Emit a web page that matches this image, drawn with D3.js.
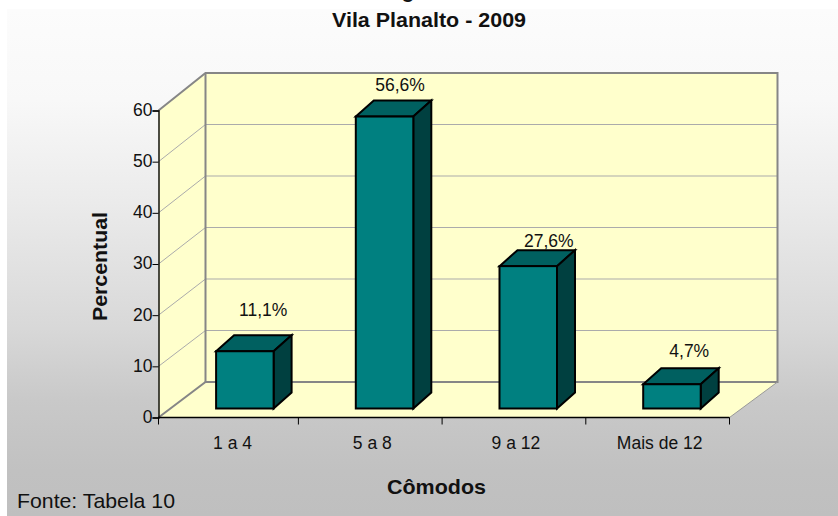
<!DOCTYPE html>
<html><head><meta charset="utf-8">
<style>html,body{margin:0;padding:0;background:#fff}svg{display:block}text{font-family:"Liberation Sans",Arial,sans-serif;fill:#111}</style>
<script src="https://cdn.jsdelivr.net/npm/d3@7/dist/d3.min.js"></script>
</head><body><div id="c"></div>
<script>
const categories = ["1 a 4","5 a 8","9 a 12","Mais de 12"];
const values = [11.1,56.6,27.6,4.7];
const valueLabels = ["11,1%","56,6%","27,6%","4,7%"];
const yTicks = [0,10,20,30,40,50,60];
const titleLines = ["Vila Planalto - 2009"];
const W=838,H=516;
const svg=d3.select("#c").append("svg").attr("width",W).attr("height",H);
const defs=svg.append("defs");
const g=defs.append("linearGradient").attr("id","bg").attr("gradientUnits","userSpaceOnUse").attr("x1",0).attr("y1",9).attr("x2",0).attr("y2",516);
[[0,"#fcfcfc"],[0.18,"#f8f8f8"],[0.38,"#ebebeb"],[0.63,"#d8d8d8"],[0.77,"#c9c9c9"],[0.91,"#c1c1c1"],[1,"#bfbfbf"]]
  .forEach(s=>g.append("stop").attr("offset",s[0]).attr("stop-color",s[1]));
svg.append("rect").attr("x",7).attr("y",9).attr("width",W-7).attr("height",H-9).attr("fill","url(#bg)");

const x=d3.scaleBand().domain(categories).range([154.7,729.5]);
const y=d3.scaleLinear().domain([0,60]).range([417.5,110.5]);
const yBack=d3.scaleLinear().domain([0,60]).range([382,73]);
const yBar=d3.scaleLinear().domain([0,60]).range([408.5,99]);
const dx=47, x0=158.5, x1=729.5;
const wall="#ffffcc", edge="#868686";
const poly=p=>p.map(a=>a.join(",")).join(" ");
const mid=(c,i)=>x(c)+x.bandwidth()/2+(i===0?4:0);
// walls and floor
svg.append("polygon").attr("points",poly([[x0,y(0)],[x0,y(60)],[x0+dx,yBack(60)],[x0+dx,yBack(0)]])).attr("fill",wall);
svg.append("polygon").attr("points",poly([[x0+dx,yBack(0)],[x0+dx,yBack(60)],[x1+dx+1,yBack(60)],[x1+dx+1,yBack(0)]])).attr("fill",wall);
svg.append("polygon").attr("points",poly([[x0,y(0)],[x0+dx,yBack(0)],[x1+dx+1,yBack(0)],[x1,y(0)]])).attr("fill",wall);
// gridlines
yTicks.slice(1,-1).forEach(t=>{
  svg.append("polyline").attr("points",poly([[x0,y(t)],[x0+dx,yBack(t)],[x1+dx+1,yBack(t)]]))
    .attr("fill","none").attr("stroke","#ababab").attr("stroke-width",1);
});
// wall edges
svg.append("polyline").attr("points",poly([[x0,y(60)],[x0+dx,yBack(60)],[x1+dx+1,yBack(60)],[x1+dx+1,yBack(0)],[x0+dx,yBack(0)],[x0,y(0)]]))
  .attr("fill","none").attr("stroke",edge).attr("stroke-width",2);
svg.append("line").attr("x1",x0+dx).attr("x2",x0+dx).attr("y1",yBack(60)).attr("y2",yBack(0)).attr("stroke",edge).attr("stroke-width",2);
svg.append("line").attr("x1",x1).attr("x2",x1+dx+1).attr("y1",y(0)).attr("y2",yBack(0)).attr("stroke","#999").attr("stroke-width",1);
// bars
const barW=57.5, bdx=18, bdy=16;
const bars=svg.append("g").attr("stroke","#000").attr("stroke-width",2).attr("stroke-linejoin","miter");
categories.forEach((c,i)=>{
  const l=mid(c,i)+14.3-barW/2, r=l+barW, t=yBar(values[i]), b=yBar(0);
  bars.append("polygon").attr("points",poly([[l,t],[l+bdx,t-bdy],[r+bdx,t-bdy],[r,t]])).attr("fill","#006060");
  bars.append("polygon").attr("points",poly([[r,t],[r+bdx,t-bdy],[r+bdx,b-bdy],[r,b]])).attr("fill","#004040");
  bars.append("rect").attr("x",l).attr("y",t).attr("width",barW).attr("height",b-t).attr("fill","#008080");
});
// axes
const axY=svg.append("g").attr("transform",`translate(${x0},0)`).call(d3.axisLeft(y).tickValues(yTicks).tickSize(6).tickFormat(d3.format("d")));
const axX=svg.append("g").attr("transform",`translate(0,${y(0)})`).call(d3.axisBottom(x).tickValues([]).tickSizeOuter(0));
axX.selectAll(".boundary").data(d3.range(categories.length+1)).enter().append("line")
  .attr("x1",i=>i===0?x0:x(categories[0])+i*x.step()).attr("x2",i=>i===0?x0:x(categories[0])+i*x.step())
  .attr("y1",0).attr("y2",7).attr("stroke","#000");
axX.select(".domain").attr("d",`M${x0},0H${x1}`);
[axY,axX].forEach(a=>a.select(".domain").attr("stroke","#000").attr("stroke-width",1.4));
axY.selectAll("text").attr("font-size",17.5).style("font-family",'"Liberation Sans"').attr("x",-6).attr("dy","0.28em").attr("fill","#111");
categories.forEach((c,i)=>{
  svg.append("text").attr("x",mid(c,i)+2).attr("y",449).attr("text-anchor","middle").attr("font-size",17.5).text(c);
});
// value labels
const labelDx=[18.3,15.5,20.5,17.3], labelDy=[25,16,9,17];
categories.forEach((c,i)=>{
  svg.append("text").attr("x",mid(c,i)+14.3+labelDx[i]).attr("y",yBar(values[i])-bdy-labelDy[i]+6)
    .attr("text-anchor","middle").attr("font-size",17.5).text(valueLabels[i]);
});
// titles
svg.append("text").attr("x",408).attr("y",-2).attr("text-anchor","middle").attr("font-size",20.5).attr("font-weight","bold").text("g");
svg.append("text").attr("x",429).attr("y",27).attr("text-anchor","middle").attr("font-size",20.5).attr("font-weight","bold").attr("textLength",194).attr("lengthAdjust","spacingAndGlyphs").text(titleLines[0]);
svg.append("text").attr("transform","translate(106.5,266.5) rotate(-90)").attr("text-anchor","middle").attr("font-size",20.5).attr("font-weight","bold").attr("textLength",109).attr("lengthAdjust","spacingAndGlyphs").text("Percentual");
svg.append("text").attr("x",436.5).attr("y",494).attr("text-anchor","middle").attr("font-size",20.5).attr("font-weight","bold").attr("textLength",99).attr("lengthAdjust","spacingAndGlyphs").text("Cômodos");
svg.append("text").attr("x",17).attr("y",508).attr("font-size",21).attr("textLength",158).attr("lengthAdjust","spacingAndGlyphs").text("Fonte: Tabela 10");
</script></body></html>
